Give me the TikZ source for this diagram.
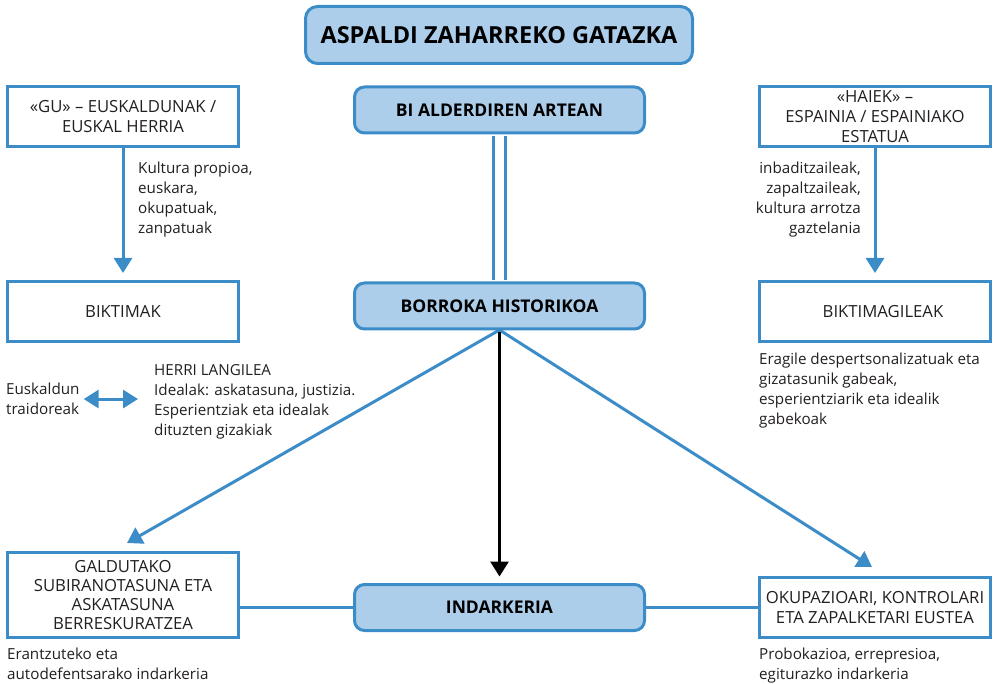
\documentclass[tikz,border=0pt]{standalone}
\usepackage{fontspec}
\setmainfont{Open Sans}
\usepackage{tikz}
\usetikzlibrary{positioning}
\usetikzlibrary{arrows.meta}
\definecolor{bluedge}{RGB}{60,140,200}
\definecolor{bluefill}{RGB}{172,206,234}
\definecolor{textgray}{RGB}{35,31,32}
\tikzset{mainstyle/.style={rectangle,rounded corners=10pt,draw=bluedge,fill=bluefill,line width=3pt,minimum width=290pt,minimum height=46pt,font=\bfseries\fontsize{17.5}{20}\selectfont,text=black}}
\tikzset{boxstyle/.style={rectangle,draw=bluedge,line width=3pt,minimum width=231pt,minimum height=60pt,align=center,font=\fontsize{16.7}{20}\selectfont,text=textgray}}
\tikzset{notestyle/.style={inner sep=0pt,font=\fontsize{15.2}{20}\selectfont,text=textgray}}
\tikzset{bluearrow/.style={draw=bluedge,line width=3pt,-{Triangle[width=18pt,length=15pt]}}}

\begin{document}
\begin{tikzpicture}[x=1pt,y=-1pt]
        \useasboundingbox (0,0) rectangle (996,684);

        % Connectors first, boxes on top
        \coordinate (ltip) at (127,543);
        \coordinate (rtip) at (872,567);
        \coordinate (top) at (499.5,330);
        \draw[bluearrow] (top) -- (ltip);
        \draw[bluearrow] (top) -- (rtip);

        \node[mainstyle,minimum width=387pt,minimum height=57pt,rounded corners=12pt,font=\bfseries\fontsize{23.5}{26}\selectfont] (title) at (499,35) {ASPALDI ZAHARREKO GATAZKA};
        \node[mainstyle] (bi) at (499.5,110) {BI ALDERDIREN ARTEAN};
        \node[mainstyle] (borroka) at (499.5,306) {BORROKA HISTORIKOA};
        \node[mainstyle] (indarkeria) at (499.5,607.5) {INDARKERIA};

        \node[boxstyle] (gu) at (123,116.5) {«GU» – EUSKALDUNAK /\\EUSKAL HERRIA};
        \node[boxstyle] (biktimak) at (123,312) {BIKTIMAK};
        \node[boxstyle] (haiek) at (875,116.5) {«HAIEK» –\\ESPAINIA / ESPAINIAKO\\ESTATUA};
        \node[boxstyle] (biktimagileak) at (875,312) {\hspace{16pt}BIKTIMAGILEAK};
        \node[boxstyle,minimum height=85pt,font=\fontsize{16.7}{19}\selectfont] (galdutako) at (123,595) {GALDUTAKO\\SUBIRANOTASUNA ETA\\ASKATASUNA\\BERRESKURATZEA};
        \node[boxstyle] (okupazio) at (875,607.5) {OKUPAZIOARI, KONTROLARI\\ETA ZAPALKETARI EUSTEA};

        % Notes
        \node[notestyle,anchor=north west,align=left] (gunote) at (138,162) {Kultura propioa,\\euskara,\\okupatuak,\\zanpatuak};
        \node[notestyle,anchor=north east,align=right] (haieknote) at (861,162) {inbaditzaileak,\\zapaltzaileak,\\kultura arrotza\\gaztelania};
        \node[notestyle,anchor=north west,align=left] (eragile) at (759,353) {Eragile despertsonalizatuak eta\\gizatasunik gabeak,\\esperientziarik eta idealik\\gabekoak};
        \node[notestyle,anchor=north west,align=left] (herri) at (154,364) {HERRI LANGILEA\\Idealak: askatasuna, justizia.\\Esperientziak eta idealak\\dituzten gizakiak};
        \node[notestyle,anchor=north west,align=left] (euskaldun) at (6,383) {Euskaldun\\traidoreak};
        \node[notestyle,anchor=north west,align=left] (erantzun) at (7,648) {Erantzuteko eta\\autodefentsarako indarkeria};
        \node[notestyle,anchor=north west,align=left] (probo) at (759,648) {Probokazioa, errepresioa,\\egiturazko indarkeria};

        % Vertical connections
        \draw[bluearrow,shorten >=7.5pt] (gu) -- (biktimak);
        \draw[bluearrow,shorten >=7.5pt] (haiek) -- (biktimagileak);
        \draw[draw=bluedge,line width=3pt,double=white,double distance=9pt,shorten <=1.5pt,shorten >=1.5pt] (bi) -- (borroka);
        \draw[line width=3pt,-{Triangle[width=18pt,length=15pt]},shorten <=1.5pt,shorten >=6.5pt] (borroka) -- (indarkeria);

        % Horizontal connections
        \draw[draw=bluedge,line width=3pt] (indarkeria.west) -- (indarkeria.west -| galdutako.east);
        \draw[draw=bluedge,line width=3pt] (indarkeria.east) -- (indarkeria.east -| okupazio.west);
        \draw[bluearrow,{Triangle[width=18pt,length=15pt]}-{Triangle[width=18pt,length=15pt]},shorten <=4pt,shorten >=16pt] (euskaldun.east) -- (euskaldun.east -| herri.west);
    \end{tikzpicture}
\end{document}
